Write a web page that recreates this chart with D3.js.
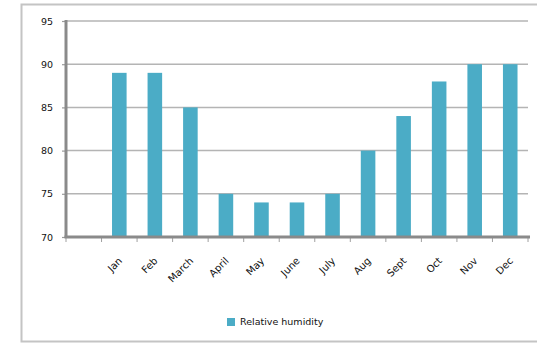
<!DOCTYPE html>
<html>
<head>
<meta charset="utf-8">
<script src="https://cdn.jsdelivr.net/npm/d3@7"></script>
<style>
  html, body { margin: 0; padding: 0; background: #fff; }
  svg { display: block; }
  text { font-family: "DejaVu Sans", sans-serif; fill: #111; }
</style>
</head>
<body>
<svg id="chart" width="537" height="344"></svg>
<script>
// Monthly relative humidity (%), first slot is an empty category
const categories = ["", "Jan", "Feb", "March", "April", "May", "June", "July", "Aug", "Sept", "Oct", "Nov", "Dec"];
const humidity = [null, 89, 89, 85, 75, 74, 74, 75, 80, 84, 88, 90, 90];
const yTicks = [70, 75, 80, 85, 90, 95];
const seriesName = "Relative humidity";

const svg = d3.select("#chart");
const barColor = "#4bacc6";
const plot = { left: 66, right: 528, top: 21, bottom: 237 };

// Chart area frame
svg.append("rect")
  .attr("x", 21.5).attr("y", 4.5)
  .attr("width", 530).attr("height", 337)
  .attr("fill", "none")
  .attr("stroke", "#c4c4c4")
  .attr("stroke-width", 2);

const x = d3.scaleBand()
  .domain(categories.map((c, i) => i))
  .range([plot.left, plot.right])
  .paddingInner(0.59)
  .paddingOuter(0.295);

const y = d3.scaleLinear()
  .domain([70, 95])
  .range([plot.bottom, plot.top]);

// Horizontal gridlines
svg.append("g")
  .selectAll("line")
  .data(yTicks.slice(1))
  .join("line")
  .attr("x1", plot.left).attr("x2", plot.right)
  .attr("y1", d => y(d)).attr("y2", d => y(d))
  .attr("stroke", "#b4b4b4")
  .attr("stroke-width", 1.5);

// Y axis
const yAxis = svg.append("g")
  .attr("transform", `translate(${plot.left},0)`)
  .call(d3.axisLeft(y).tickValues(yTicks).tickSize(4).tickPadding(9));
yAxis.select(".domain").remove();
yAxis.selectAll(".tick line").attr("stroke", "#9a9a9a").attr("stroke-width", 1.2);
yAxis.selectAll(".tick text")
  .style("font-family", "DejaVu Sans, sans-serif")
  .style("font-size", "9.5px")
  .attr("fill", "#111");
svg.append("line")
  .attr("x1", plot.left).attr("x2", plot.left)
  .attr("y1", plot.top - 1).attr("y2", plot.bottom + 1)
  .attr("stroke", "#8a8a8a").attr("stroke-width", 3);

// Bars
svg.append("g")
  .selectAll("rect")
  .data(humidity.map((v, i) => ({ i, v })).filter(d => d.v != null))
  .join("rect")
  .attr("x", d => x(d.i))
  .attr("y", d => y(d.v))
  .attr("width", x.bandwidth())
  .attr("height", d => y(70) - y(d.v))
  .attr("fill", barColor);

// X axis line and category boundary ticks
const step = x.step();
const half = (step - x.bandwidth()) / 2;
const boundaries = categories.map((c, i) => x(i) - half).concat([x(categories.length - 1) + x.bandwidth() + half]);
svg.append("g")
  .selectAll("line")
  .data(boundaries)
  .join("line")
  .attr("x1", d => d).attr("x2", d => d)
  .attr("y1", plot.bottom).attr("y2", plot.bottom + 5)
  .attr("stroke", "#a0a0a0").attr("stroke-width", 1);
svg.append("line")
  .attr("x1", plot.left - 1.5).attr("x2", plot.right + 2)
  .attr("y1", plot.bottom).attr("y2", plot.bottom)
  .attr("stroke", "#8a8a8a").attr("stroke-width", 3);

// Rotated category labels
svg.append("g")
  .selectAll("text")
  .data(categories.map((c, i) => ({ c, i })).filter(d => d.c))
  .join("text")
  .attr("transform", d => `translate(${x(d.i) + x.bandwidth() / 2 + 1},${plot.bottom + 22}) rotate(-45)`)
  .attr("text-anchor", "end")
  .attr("dy", "0.35em")
  .style("font-size", "10px")
  .text(d => d.c);

// Legend
const legend = svg.append("g").attr("transform", "translate(227,318)");
legend.append("rect")
  .attr("width", 8).attr("height", 8)
  .attr("fill", barColor);
legend.append("text")
  .attr("x", 13).attr("y", 4)
  .attr("dy", "0.35em")
  .style("font-size", "9.5px")
  .text(seriesName);
</script>
</body>
</html>
